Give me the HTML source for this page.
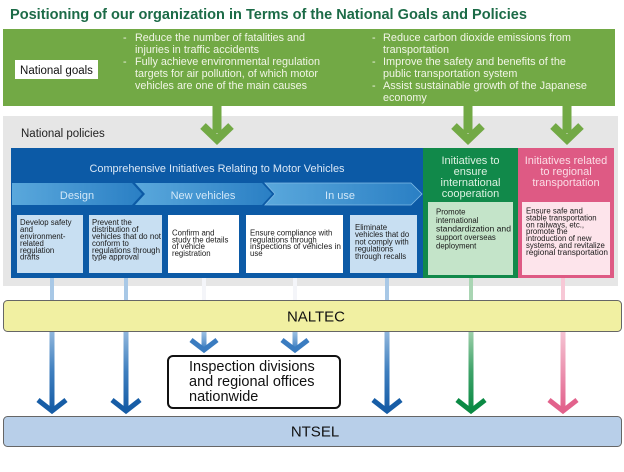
<!DOCTYPE html>
<html><head><meta charset="utf-8"><style>
html,body{margin:0;padding:0;background:#fff;}
svg{display:block;font-family:"Liberation Sans",Arial,sans-serif;}
</style></head><body>
<svg width="624" height="472" viewBox="0 0 624 472" xmlns="http://www.w3.org/2000/svg">
<defs>
<linearGradient id="chev" x1="0" y1="0" x2="1" y2="0">
<stop offset="0" stop-color="#5aa8dc"/><stop offset="1" stop-color="#2a7fc4"/>
</linearGradient>
<linearGradient id="gB" x1="0" y1="0" x2="0" y2="1">
<stop offset="0" stop-color="#8fb6dc"/><stop offset="0.5" stop-color="#3f7fbf"/><stop offset="1" stop-color="#165ca6"/>
</linearGradient>
<linearGradient id="gG" x1="0" y1="0" x2="0" y2="1">
<stop offset="0" stop-color="#9ccfa9"/><stop offset="0.5" stop-color="#3fa36a"/><stop offset="1" stop-color="#0b8a44"/>
</linearGradient>
<linearGradient id="gP" x1="0" y1="0" x2="0" y2="1">
<stop offset="0" stop-color="#f5c3d2"/><stop offset="0.5" stop-color="#ec93b0"/><stop offset="1" stop-color="#e2608b"/>
</linearGradient>
<linearGradient id="gS" x1="0" y1="0" x2="0" y2="1">
<stop offset="0" stop-color="#9cc0e2"/><stop offset="1" stop-color="#3a7cc0"/>
</linearGradient>
</defs>

<!-- Title -->
<text x="10" y="19" font-size="15" font-weight="bold" fill="#1c6b47" textLength="517" lengthAdjust="spacingAndGlyphs">Positioning of our organization in Terms of the National Goals and Policies</text>

<!-- Gray policies area -->
<rect x="3" y="116" width="615" height="170" fill="#e6e6e6"/>
<text x="21" y="137" font-size="11.5" fill="#222">National policies</text>

<!-- Green goals box -->
<rect x="3" y="29" width="612" height="77" fill="#72a945"/>
<rect x="15" y="60" width="83" height="19" fill="#fff"/>
<text x="56.5" y="74" font-size="11.5" fill="#111" text-anchor="middle">National goals</text>
<g font-size="10.8" fill="#f1f5e6">
<text x="123" y="41">-</text><text x="135" y="41" textLength="170" lengthAdjust="spacingAndGlyphs">Reduce the number of fatalities and</text>
<text x="135" y="53" textLength="124" lengthAdjust="spacingAndGlyphs">injuries in traffic accidents</text>
<text x="123" y="65">-</text><text x="135" y="65" textLength="185" lengthAdjust="spacingAndGlyphs">Fully achieve environmental regulation</text>
<text x="135" y="77" textLength="183" lengthAdjust="spacingAndGlyphs">targets for air pollution, of which motor</text>
<text x="135" y="89" textLength="172" lengthAdjust="spacingAndGlyphs">vehicles are one of the main causes</text>
<text x="372" y="41">-</text><text x="383" y="41" textLength="188" lengthAdjust="spacingAndGlyphs">Reduce carbon dioxide emissions from</text>
<text x="383" y="53">transportation</text>
<text x="372" y="65">-</text><text x="383" y="65" textLength="183" lengthAdjust="spacingAndGlyphs">Improve the safety and benefits of the</text>
<text x="383" y="77">public transportation system</text>
<text x="372" y="89">-</text><text x="383" y="89" textLength="204" lengthAdjust="spacingAndGlyphs">Assist sustainable growth of the Japanese</text>
<text x="383" y="101">economy</text>
</g>

<!-- Green arrows -->
<g fill="#72a945" stroke="none">
<rect x="212.5" y="105" width="9" height="28"/>
<rect x="463.5" y="105" width="9" height="28"/>
<rect x="562.5" y="105" width="9" height="28"/>
</g>
<g fill="none" stroke="#72a945" stroke-width="8" stroke-linejoin="miter" stroke-miterlimit="10">
<polyline points="203,126 217,139.5 231,126"/>
<polyline points="454,126 468,139.5 482,126"/>
<polyline points="553,126 567,139.5 581,126"/>
</g>

<!-- Connectors between panels and NALTEC -->
<g stroke-width="4">
<line x1="52" y1="273" x2="52" y2="301" stroke="#a8c8e6"/>
<line x1="126" y1="273" x2="126" y2="301" stroke="#a8c8e6"/>
<line x1="204" y1="273" x2="204" y2="301" stroke="#f4f5f9"/>
<line x1="295" y1="273" x2="295" y2="301" stroke="#f4f5f9"/>
<line x1="387" y1="273" x2="387" y2="301" stroke="#a8c8e6"/>
<line x1="471" y1="275" x2="471" y2="301" stroke="#a9d5b3"/>
<line x1="563" y1="275" x2="563" y2="301" stroke="#f7c8d6"/>
</g>

<!-- Blue panel -->
<rect x="11" y="148" width="412" height="130" fill="#0c5aa6"/>
<text x="217" y="172" font-size="11" fill="#dbe8f6" text-anchor="middle" textLength="255" lengthAdjust="spacingAndGlyphs">Comprehensive Initiatives Relating to Motor Vehicles</text>
<polygon points="12,183 132,183 142,194 132,205 12,205" fill="url(#chev)"/>
<polygon points="135,183 262,183 272,194 262,205 135,205 145,194" fill="url(#chev)"/>
<polygon points="265,183 411,183 422,194 411,205 265,205 275,194" fill="url(#chev)" stroke="#7fbbe6" stroke-width="0.8"/>
<g font-size="11" fill="#d2e8f8" text-anchor="middle">
<text x="77" y="199">Design</text>
<text x="203" y="199">New vehicles</text>
<text x="340" y="199">In use</text>
</g>

<!-- Sub boxes -->
<rect x="17" y="215" width="66" height="58" fill="#c8dff2"/>
<rect x="89" y="215" width="73" height="58" fill="#c8dff2"/>
<rect x="168" y="215" width="71" height="58" fill="#fff"/>
<rect x="246" y="215" width="97" height="58" fill="#fff"/>
<rect x="350" y="215" width="67" height="58" fill="#c8dff2"/>
<g font-size="7.8" fill="#1a1a1a">
<text x="20" y="225.2">Develop safety</text>
<text x="20" y="232.1">and</text>
<text x="20" y="239">environment-</text>
<text x="20" y="245.9">related</text>
<text x="20" y="252.8">regulation</text>
<text x="20" y="259.7">drafts</text>
<text x="92" y="225.2">Prevent the</text>
<text x="92" y="232.1">distribution of</text>
<text x="92" y="239" textLength="69" lengthAdjust="spacingAndGlyphs">vehicles that do not</text>
<text x="92" y="245.9">conform to</text>
<text x="92" y="252.8" textLength="68" lengthAdjust="spacingAndGlyphs">regulations through</text>
<text x="92" y="259.7">type approval</text>
<text x="172" y="235.5">Confirm and</text>
<text x="172" y="242.3">study the details</text>
<text x="172" y="249.2">of vehicle</text>
<text x="172" y="256">registration</text>
<text x="250" y="235.5">Ensure compliance with</text>
<text x="250" y="242.3">regulations through</text>
<text x="250" y="249.2" textLength="91" lengthAdjust="spacingAndGlyphs">inspections of vehicles in</text>
<text x="250" y="256">use</text>
<text x="355" y="230">Eliminate</text>
<text x="355" y="237.2">vehicles that do</text>
<text x="355" y="244.4">not comply with</text>
<text x="355" y="251.6">regulations</text>
<text x="355" y="258.8">through recalls</text>
</g>

<!-- Green panel -->
<rect x="423" y="148" width="95" height="130" fill="#11894a"/>
<g font-size="11" fill="#dcf1e1" text-anchor="middle">
<text x="470.5" y="164">Initiatives to</text>
<text x="470.5" y="175">ensure</text>
<text x="470.5" y="186">international</text>
<text x="470.5" y="197">cooperation</text>
</g>
<rect x="428" y="202" width="85" height="73" fill="#c4e4c9"/>
<g font-size="7.8" fill="#1a1a1a">
<text x="436" y="214.5">Promote</text>
<text x="436" y="223">international</text>
<text x="436" y="231.5" textLength="75" lengthAdjust="spacingAndGlyphs">standardization and</text>
<text x="436" y="240">support overseas</text>
<text x="436" y="248.5">deployment</text>
</g>

<!-- Pink panel -->
<rect x="518" y="148" width="96" height="130" fill="#de5a84"/>
<g font-size="11" fill="#fbdde6" text-anchor="middle">
<text x="566" y="164">Initiatives related</text>
<text x="566" y="175">to regional</text>
<text x="566" y="186">transportation</text>
</g>
<rect x="522" y="202" width="88" height="73" fill="#fde4eb"/>
<g font-size="7.8" fill="#1a1a1a">
<text x="526" y="213.5">Ensure safe and</text>
<text x="526" y="220.5">stable transportation</text>
<text x="526" y="227.4">on railways, etc.,</text>
<text x="526" y="234.2">promote the</text>
<text x="526" y="241.1">introduction of new</text>
<text x="526" y="248">systems, and revitalize</text>
<text x="526" y="254.9" textLength="82" lengthAdjust="spacingAndGlyphs">regional transportation</text>
</g>

<!-- NALTEC -->
<rect x="3.5" y="300.5" width="618" height="31" rx="4" fill="#f1f0a2" stroke="#666" stroke-width="1"/>
<text x="316" y="321.5" font-size="15" fill="#111" text-anchor="middle">NALTEC</text>

<!-- Long arrow shafts -->
<rect x="49.5" y="332" width="5" height="78" fill="url(#gB)"/>
<rect x="123.5" y="332" width="5" height="78" fill="url(#gB)"/>
<rect x="384.5" y="332" width="5" height="78" fill="url(#gB)"/>
<rect x="468.5" y="332" width="5" height="78" fill="url(#gG)"/>
<rect x="560.5" y="332" width="5" height="78" fill="url(#gP)"/>
<rect x="201.5" y="332" width="5" height="18" fill="url(#gS)"/>
<rect x="292.5" y="332" width="5" height="18" fill="url(#gS)"/>
<g stroke-width="5" fill="none" stroke-linejoin="miter" stroke-miterlimit="10">
<polyline points="38,400 52,411 66,400" stroke="#175da6"/>
<polyline points="112,400 126,411 140,400" stroke="#175da6"/>
<polyline points="373,400 387,411 401,400" stroke="#175da6"/>
<polyline points="457,400 471,411 485,400" stroke="#0b8a44"/>
<polyline points="549,400 563,411 577,400" stroke="#e2628c"/>
<polyline points="191,340 204,350 217,340" stroke="#3a7cc0"/>
<polyline points="282,340 295,350 308,340" stroke="#3a7cc0"/>
</g>

<!-- Inspection box -->
<rect x="168" y="356" width="172" height="52" rx="5" fill="#fff" stroke="#111" stroke-width="2"/>
<g font-size="14.5" fill="#111">
<text x="189" y="371">Inspection divisions</text>
<text x="189" y="386">and regional offices</text>
<text x="189" y="401">nationwide</text>
</g>

<!-- NTSEL -->
<rect x="3.5" y="416.5" width="618" height="30" rx="4" fill="#b8cfe9" stroke="#666" stroke-width="1"/>
<text x="315" y="436.5" font-size="15" fill="#111" text-anchor="middle">NTSEL</text>
</svg>
</body></html>
